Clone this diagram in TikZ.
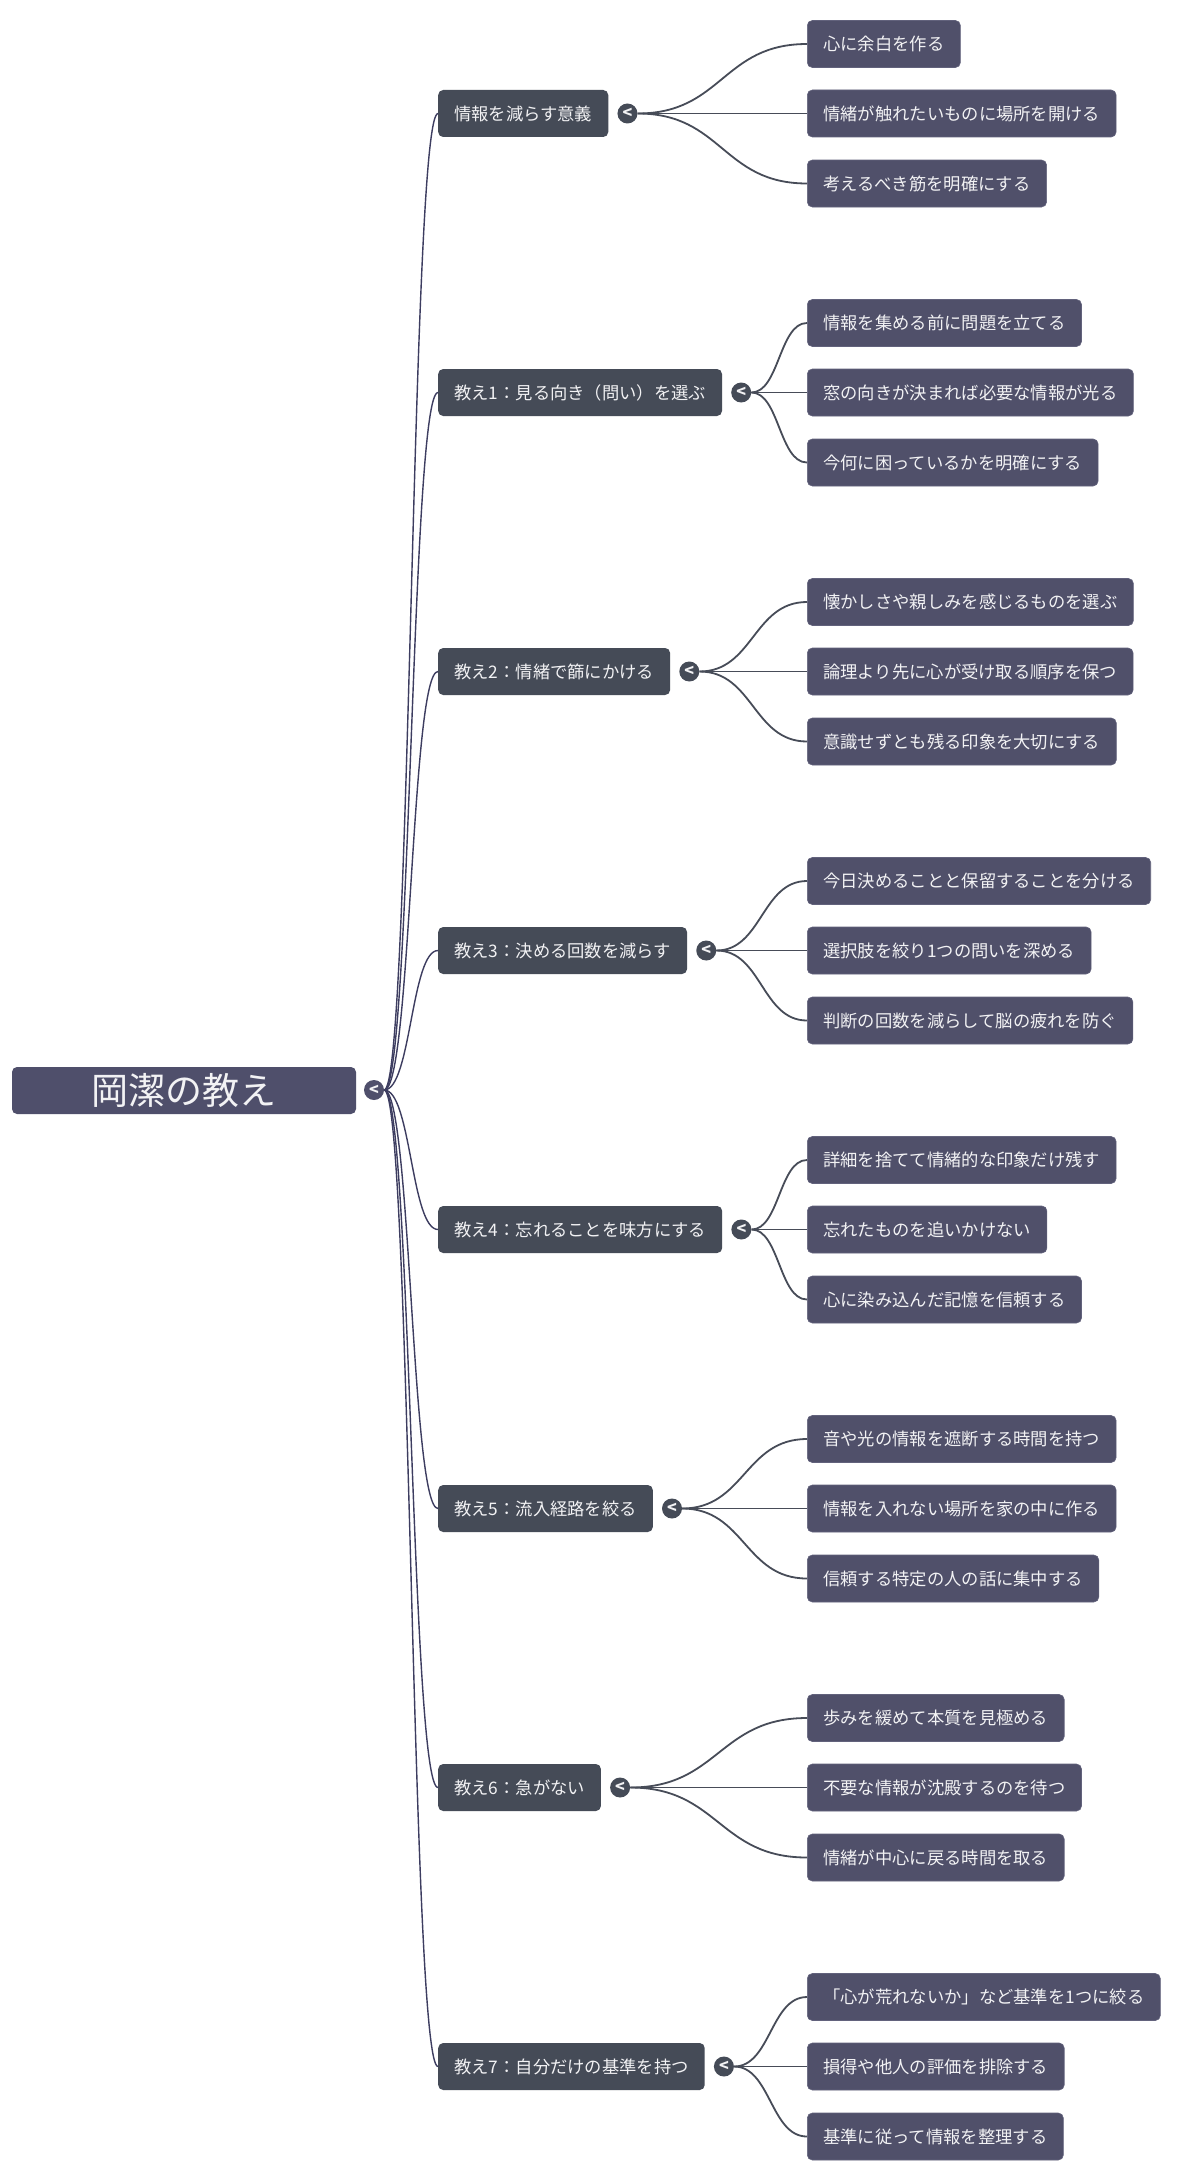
\documentclass[tikz,border=0pt]{standalone}
\usepackage{fontspec}
\setmainfont{Noto Sans CJK JP}
\usetikzlibrary{calc}
\definecolor{rootc}{HTML}{4F4F6B}
\definecolor{lonec}{HTML}{454B57}
\definecolor{leafc}{HTML}{50506A}
\definecolor{leafb}{HTML}{62627C}
\definecolor{rlinec}{HTML}{3D3D60}
\definecolor{llinec}{HTML}{474C58}
\definecolor{txtc}{HTML}{F2F2F4}
\newcommand\hconn[3][]{\draw[#1] let \p1=(#2), \p2=(#3) in (\p1) .. controls ({(\x1+\x2)/2},\y1) and ({(\x1+\x2)/2},\y2) .. (\p2);}
\tikzset{
  rootbox/.style={fill=rootc, rounded corners=5pt, minimum width=344pt, minimum height=47pt, inner sep=0pt, text=txtc, font=\fontsize{37}{40}\selectfont},
  onebox/.style={fill=lonec, rounded corners=5pt, minimum height=47pt, inner xsep=16pt, inner ysep=0pt, text=txtc, anchor=west, font=\fontsize{17.3}{20}\selectfont},
  leafbox/.style={fill=leafc, draw=leafb, line width=0.6pt, rounded corners=5pt, minimum height=47pt, inner xsep=16pt, inner ysep=0pt, text=txtc, anchor=west, font=\fontsize{17.3}{20}\selectfont},
  dotc/.style={circle, fill=lonec, minimum size=20pt, inner sep=0pt, text=txtc, font=\fontsize{16}{16}\selectfont\bfseries},
  rline/.style={draw=rlinec, line width=1.4pt},
  lline/.style={draw=llinec, line width=1.8pt},
}
\begin{document}
\begin{tikzpicture}[x=1pt,y=-1pt]
\useasboundingbox[fill=white] (0,0) rectangle (1200,2181);
\node[rootbox] (root) at (184,1090.5) {岡潔の教え};
\node[dotc, fill=rootc] (rc) at (374,1090) {<};
\foreach \k/\main/\la/\lb/\lc in {
 0/情報を減らす意義/心に余白を作る/情緒が触れたいものに場所を開ける/考えるべき筋を明確にする,
 1/教え1：見る向き（問い）を選ぶ/情報を集める前に問題を立てる/窓の向きが決まれば必要な情報が光る/今何に困っているかを明確にする,
 2/教え2：情緒で篩にかける/懐かしさや親しみを感じるものを選ぶ/論理より先に心が受け取る順序を保つ/意識せずとも残る印象を大切にする,
 3/教え3：決める回数を減らす/今日決めることと保留することを分ける/選択肢を絞り1つの問いを深める/判断の回数を減らして脳の疲れを防ぐ,
 4/教え4：忘れることを味方にする/詳細を捨てて情緒的な印象だけ残す/忘れたものを追いかけない/心に染み込んだ記憶を信頼する,
 5/教え5：流入経路を絞る/音や光の情報を遮断する時間を持つ/情報を入れない場所を家の中に作る/信頼する特定の人の話に集中する,
 6/教え6：急がない/歩みを緩めて本質を見極める/不要な情報が沈殿するのを待つ/情緒が中心に戻る時間を取る,
 7/教え7：自分だけの基準を持つ/「心が荒れないか」など基準を1つに絞る/損得や他人の評価を排除する/基準に従って情報を整理する}
{
  \pgfmathsetmacro\yy{113.5+279*\k}
  \node[onebox] (g\k) at (438,\yy) {\main};
  \node[dotc] (c\k) at ([xshift=19pt]g\k.east) {<};
  \node[leafbox] (a\k) at (807,\yy-69.5) {\la};
  \node[leafbox] (b\k) at (807,\yy) {\lb};
  \node[leafbox] (d\k) at (807,\yy+70) {\lc};
  \hconn[rline]{rc.east}{g\k.west}
  \hconn[lline]{c\k.east}{a\k.west}
  \hconn[lline]{c\k.east}{b\k.west}
  \hconn[lline]{c\k.east}{d\k.west}
}
\end{tikzpicture}
\end{document}
